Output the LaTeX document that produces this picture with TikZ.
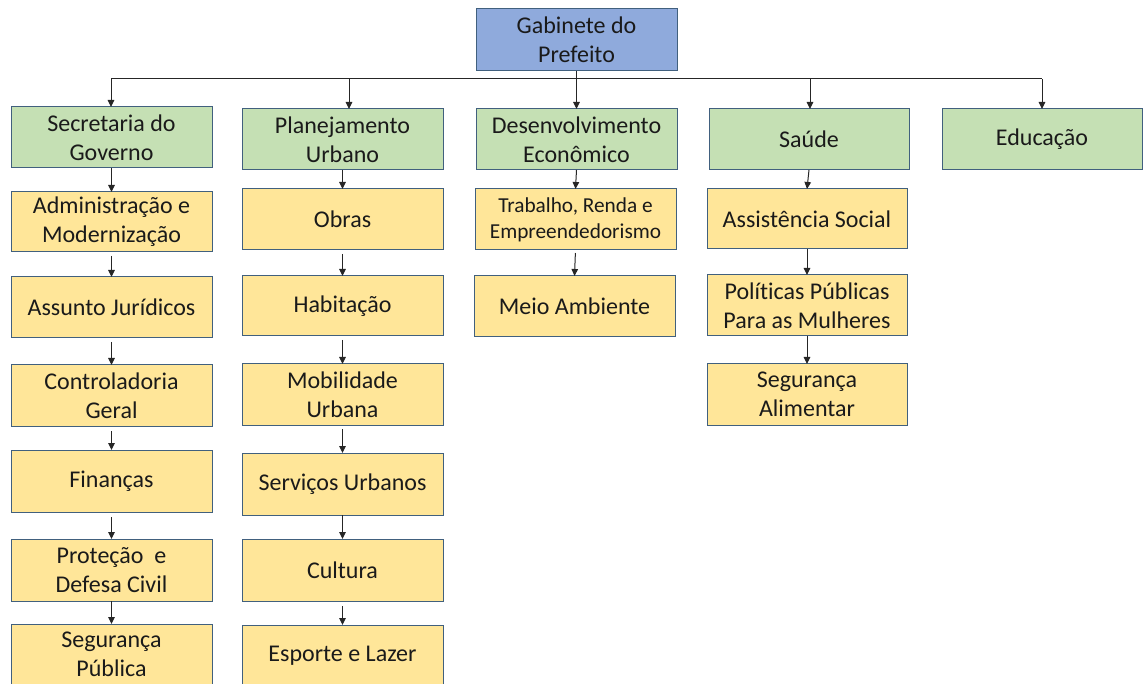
\documentclass[tikz,border=0pt]{standalone}
\usepackage{fontspec}
\setmainfont{Carlito}[Ligatures={NoCommon}]
\usetikzlibrary{arrows.meta}
\definecolor{bluefill}{HTML}{8FAADC}
\definecolor{greenfill}{HTML}{C5E0B4}
\definecolor{yellowfill}{HTML}{FFE699}
\definecolor{boxline}{HTML}{41607E}
\definecolor{arrowline}{HTML}{262626}
\definecolor{txt}{HTML}{1A1A1A}
\tikzset{
  box/.style={draw=boxline, line width=1pt, inner sep=0pt, outer sep=0pt,
    align=center, text=txt, minimum width=201pt, minimum height=61pt,
    font=\fontsize{24}{29}\selectfont},
  topbox/.style={box, fill=bluefill, minimum height=62pt},
  greenbox/.style={box, fill=greenfill},
  yellowbox/.style={box, fill=yellowfill},
  arr/.style={draw=arrowline, line width=1pt, -{Triangle[length=7pt,width=6.5pt]}},
  bus/.style={draw=arrowline, line width=1pt}
}
\begin{document}
\begin{tikzpicture}[x=1pt,y=-1pt]
\useasboundingbox (0,0) rectangle (1143,684);
% top
\node[topbox] (gab) at (576.5,40) {Gabinete do\\Prefeito};
% level 1
\node[greenbox] (sec) at (111.5,137.5) {Secretaria do\\Governo};
\node[greenbox] (pla) at (342.5,139.5) {Planejamento\\Urbano};
\node[greenbox] (des) at (576.5,139.5) {Desenvolvimento\\Econômico};
\node[greenbox, minimum width=200pt] (sau) at (809,139.5) {Saúde};
\node[greenbox, minimum width=200pt] (edu) at (1042,139.5) {Educação};
% column 1
\node[yellowbox, minimum height=60pt] (adm) at (111.5,222) {Administração e\\Modernização};
\node[yellowbox] (jur) at (111.5,307.5) {Assunto Jurídicos};
\node[yellowbox] (con) at (111.5,395.5) {Controladoria\\Geral};
\node[yellowbox, minimum height=62pt] (fin) at (111.5,481) {Finanças};
\node[yellowbox, minimum height=62pt] (pro) at (111.5,570) {Proteção\ \ e\\Defesa Civil};
\node[yellowbox] (segp) at (111.5,654.5) {Segurança\\Pública};
% column 2
\node[yellowbox] (obr) at (342.5,219.5) {Obras};
\node[yellowbox, minimum height=60pt] (hab) at (342.5,306) {Habitação};
\node[yellowbox] (mob) at (342.5,394.5) {Mobilidade\\Urbana};
\node[yellowbox, minimum height=62pt] (ser) at (342.5,484) {Serviços Urbanos};
\node[yellowbox, minimum height=62pt] (cul) at (342.5,570) {Cultura};
\node[yellowbox] (esp) at (342.5,655.5) {Esporte e Lazer};
% column 3
\node[yellowbox, font=\fontsize{21.3}{26}\selectfont] (tra) at (575.5,219.5) {Trabalho, Renda e\\Empreendedorismo};
\node[yellowbox] (mei) at (574.5,306.5) {Meio Ambiente};
% column 4
\node[yellowbox, minimum width=200pt, minimum height=60pt] (ass) at (807,219) {Assistência Social};
\node[yellowbox, minimum width=200pt] (pol) at (807,305.5) {Políticas Públicas\\Para as Mulheres};
\node[yellowbox, minimum width=200pt] (sega) at (807,394.5) {Segurança\\Alimentar};
% bus
\coordinate (b1) at (111,79);
\coordinate (b2) at (349,79);
\coordinate (b4) at (810,79);
\coordinate (b5) at (1042,79);
\draw[bus] (b1) -- (b5);
\draw[arr] (gab.south) -- (des.north);
\draw[arr] (b1) -- (sec.north -| b1);
\draw[arr] (b2) -- (pla.north -| b2);
\draw[arr] (b4) -- (sau.north -| b4);
\draw[arr] (b5) -- (edu.north -| b5);
% column arrows
\draw[arr] (sec.south) -- (adm.north);
\draw[arr, shorten <=4pt] (adm.south) -- (jur.north);
\draw[arr, shorten <=4pt] (jur.south) -- (con.north);
\draw[arr, shorten <=5pt] (con.south) -- (fin.north);
\draw[arr, shorten <=5pt] (fin.south) -- (pro.north);
\draw[arr] (pro.south) -- (segp.north);
\draw[arr] (pla.south) -- (obr.north);
\draw[arr, shorten <=4pt] (obr.south) -- (hab.north);
\draw[arr, shorten <=4pt] (hab.south) -- (mob.north);
\draw[arr, shorten <=4pt] (mob.south) -- (ser.north);
\draw[arr] (ser.south) -- (cul.north);
\draw[arr, shorten <=5pt] (cul.south) -- (esp.north);
\draw[arr] (des.south) -- (tra.north);
\draw[arr, shorten <=3pt] (tra.south) -- (mei.north);
\draw[arr] (sau.south) -- (ass.north);
\draw[arr] (ass.south) -- (pol.north);
\draw[arr] (pol.south) -- (sega.north);
\end{tikzpicture}
\end{document}
